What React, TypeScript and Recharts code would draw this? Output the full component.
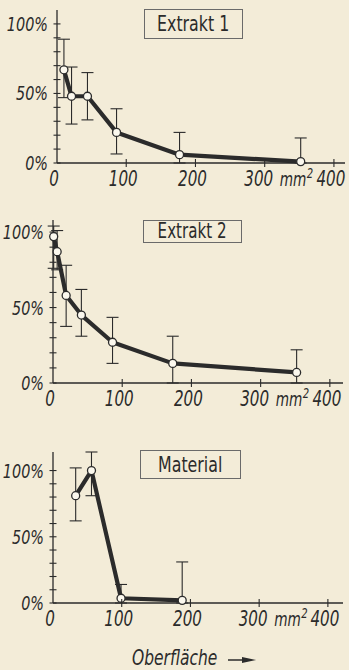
import React from "react";
import { LineChart, Line, XAxis, YAxis, ErrorBar } from "recharts";

// Oberfläche (mm²) und relative Werte (%) je Teilbild
const area1 = [10, 21, 44, 86, 177, 352];
const val1 = [67, 48, 48, 22, 6, 1];
const hi1 = [89, 69, 65, 39, 22, 18];
const lo1 = [47, 28, 31, 6.5, 0, 0];

const area2 = [1, 6, 19, 41, 86, 173, 352];
const val2 = [97, 87, 58, 45, 27, 13, 7];
const hi2 = [104, 101, 78, 62, 43.5, 31, 22];
const lo2 = [76, 75, 37.5, 31, 13, 0, 0];

const area3 = [33, 56, 99, 188];
const val3 = [81, 100, 3.6, 2];
const hi3 = [102, 114, 14, 31];
const lo3 = [62, 81, 0, 0];

const xTicks = [0, 100, 200, 300, 400];
const yTicks = [0, 10, 20, 30, 40, 50, 60, 70, 80, 90, 100];
const yLabels: Record<number, string> = { 0: "0%", 50: "50%", 100: "100%" };

const INK = "#2b2b2b";
const PAPER = "#f3ecd8";
const FONT = "'DejaVu Sans Condensed', 'DejaVu Sans', sans-serif";
const SQUEEZE = 0.8;

const build = (xs: number[], vs: number[], hs: number[], ls: number[]) =>
  xs.map((x, i) => ({ x, y: vs[i], err: [vs[i] - ls[i], hs[i] - vs[i]] }));

const Narrow = ({ x, y, anchor, size, children }: any) => (
  <text
    transform={`translate(${x},${y}) scale(${SQUEEZE},1)`}
    x={0}
    y={0}
    textAnchor={anchor}
    fontSize={size}
    fontStyle="italic"
    fill={INK}
    fontFamily={FONT}
  >
    {children}
  </text>
);

const YTick = (props: any) => {
  const { x, y, payload } = props;
  const label = yLabels[payload.value];
  return (
    <g>
      <line x1={x - 3.5} x2={x + 3.5} y1={y} y2={y} stroke={INK} strokeWidth={1.1} />
      {label && (
        <Narrow x={x - 9} y={y + 7} anchor="end" size={20}>
          {label}
        </Narrow>
      )}
    </g>
  );
};

const XTick = (props: any) => {
  const { x, y, payload } = props;
  const v = payload.value;
  return (
    <g>
      {v > 0 && <line x1={x} x2={x} y1={y - 4} y2={y + 4} stroke={INK} strokeWidth={1.1} />}
      <Narrow x={v === 300 ? x - 6 : x - 3} y={y + 23} anchor="middle" size={21}>
        {v}
      </Narrow>
      {v === 300 && (
        <>
          <Narrow x={x + 15} y={y + 23} anchor="start" size={19}>
            mm
          </Narrow>
          <Narrow x={x + 42} y={y + 15} anchor="start" size={14}>
            2
          </Narrow>
        </>
      )}
    </g>
  );
};

type PanelProps = {
  top: number;
  height: number;
  margin: { top: number; right: number; left: number; bottom: number };
  yWidth: number;
  xHeight: number;
  xMax: number;
  yMax: number;
  data: { x: number; y: number; err: number[] }[];
};

const Panel = ({ top, height, margin, yWidth, xHeight, xMax, yMax, data }: PanelProps) => (
  <div style={{ position: "absolute", left: 0, top }}>
    <LineChart width={349} height={height} data={data} margin={margin}>
      <XAxis
        dataKey="x"
        type="number"
        domain={[0, xMax]}
        ticks={xTicks}
        height={xHeight}
        tickSize={0}
        tickMargin={0}
        tickLine={false}
        axisLine={{ stroke: INK, strokeWidth: 1.3 }}
        tick={<XTick />}
        interval={0}
      />
      <YAxis
        type="number"
        domain={[0, yMax]}
        ticks={yTicks}
        width={yWidth}
        tickSize={0}
        tickMargin={0}
        tickLine={false}
        axisLine={{ stroke: INK, strokeWidth: 1.3 }}
        tick={<YTick />}
        interval={0}
      />
      <Line
        dataKey="y"
        type="linear"
        stroke={INK}
        strokeWidth={4.2}
        strokeLinejoin="round"
        dot={{ r: 4, fill: "#fbf8ee", stroke: INK, strokeWidth: 1.3 }}
        isAnimationActive={false}
      >
        <ErrorBar dataKey="err" direction="y" width={6} stroke={INK} strokeWidth={1.1} />
      </Line>
    </LineChart>
  </div>
);

const boxStyle = (left: number, top: number, w: number, h: number): React.CSSProperties => ({
  position: "absolute",
  left,
  top,
  width: w,
  height: h,
  boxSizing: "border-box",
  border: "1px solid #6a6a6a",
  display: "flex",
  alignItems: "center",
  justifyContent: "center",
  fontFamily: FONT,
  color: INK,
  lineHeight: 1,
});

const Title = ({ text, size }: { text: string; size: number }) => (
  <span style={{ display: "inline-block", fontSize: size, transform: `scaleX(${SQUEEZE})`, whiteSpace: "nowrap" }}>
    {text}
  </span>
);

export default function App() {
  return (
    <div style={{ position: "fixed", left: 0, top: 0, width: 349, height: 670, background: PAPER, overflow: "hidden" }}>
      <Panel
        top={0}
        height={200}
        margin={{ top: 10, right: 4, left: 7, bottom: 0 }}
        yWidth={50}
        xHeight={37}
        xMax={416}
        yMax={110}
        data={build(area1, val1, hi1, lo1)}
      />
      <Panel
        top={200}
        height={210}
        margin={{ top: 20, right: 6, left: 7, bottom: 0 }}
        yWidth={46}
        xHeight={27}
        xMax={419}
        yMax={108}
        data={build(area2, val2, hi2, lo2)}
      />
      <Panel
        top={410}
        height={225}
        margin={{ top: 42, right: 6, left: 7, bottom: 0 }}
        yWidth={46}
        xHeight={32}
        xMax={422}
        yMax={108}
        data={build(area3, val3, hi3, lo3)}
      />
      <div style={boxStyle(144, 9, 99, 30)}>
        <Title text="Extrakt 1" size={22} />
      </div>
      <div style={boxStyle(143, 220, 99, 23)}>
        <Title text="Extrakt 2" size={21} />
      </div>
      <div style={boxStyle(140, 450, 101, 29)}>
        <Title text="Material" size={22} />
      </div>
      <div
        style={{
          position: "absolute",
          left: 132,
          top: 648,
          fontFamily: FONT,
          fontStyle: "italic",
          fontSize: 21,
          color: INK,
          lineHeight: 1,
          whiteSpace: "nowrap",
          transform: "scaleX(0.82)",
          transformOrigin: "left center",
        }}
      >
        Oberfläche
      </div>
      <svg style={{ position: "absolute", left: 226, top: 654 }} width={32} height={12}>
        <line x1={2} y1={6} x2={20} y2={6} stroke={INK} strokeWidth={1.5} />
        <polygon points="16,3 30,6 16,9" fill={INK} />
      </svg>
    </div>
  );
}
